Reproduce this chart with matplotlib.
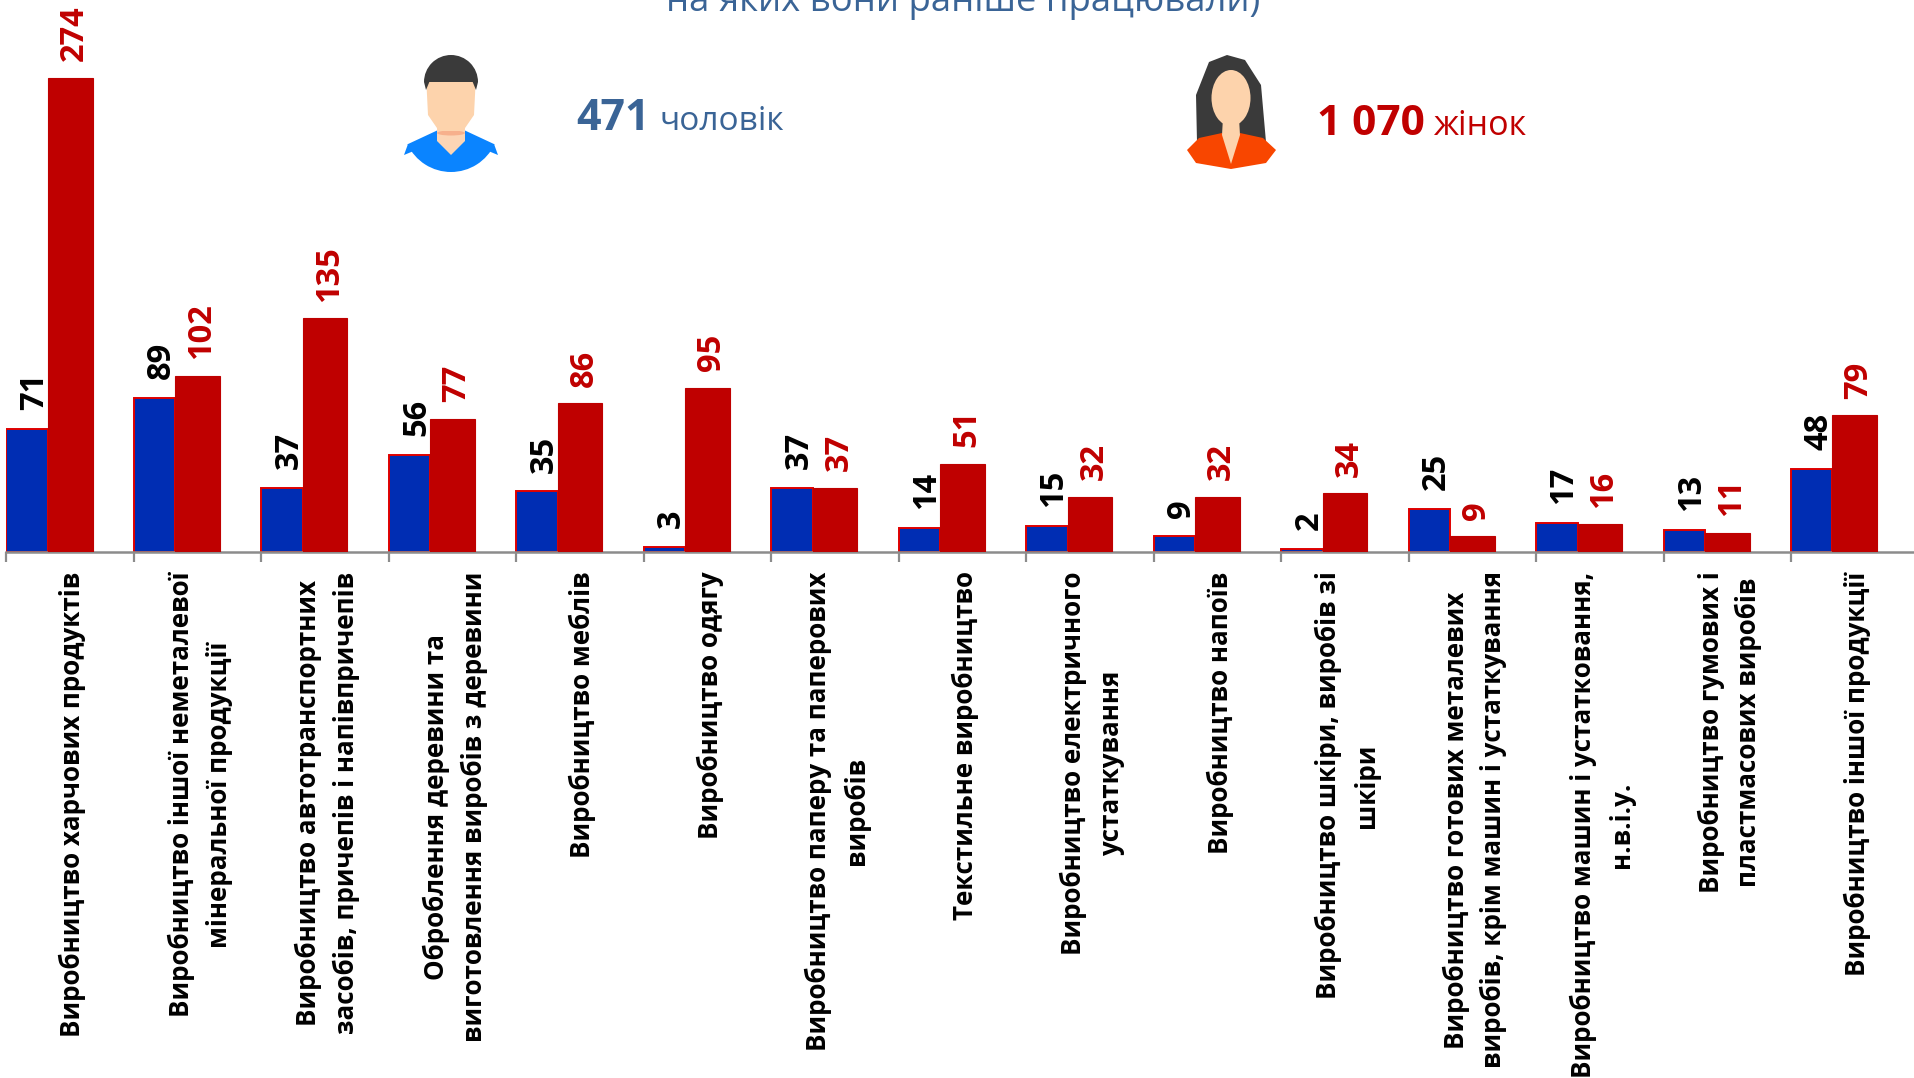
import matplotlib
matplotlib.use("Agg")
import matplotlib.pyplot as plt
from matplotlib.patches import Ellipse, Polygon, Wedge

plt.rcParams['font.family'] = ['Open Sans', 'Noto Sans', 'DejaVu Sans']

categories = [
    "Виробництво харчових продуктів",
    "Виробництво іншої неметалевої\nмінеральної продукції",
    "Виробництво автотранспортних\nзасобів, причепів і напівпричепів",
    "Оброблення деревини та\nвиготовлення виробів з деревини",
    "Виробництво меблів",
    "Виробництво одягу",
    "Виробництво паперу та паперових\nвиробів",
    "Текстильне виробництво",
    "Виробництво електричного\nустаткування",
    "Виробництво напоїв",
    "Виробництво шкіри, виробів зі\nшкіри",
    "Виробництво готових металевих\nвиробів, крім машин і устаткування",
    "Виробництво машин і устатковання,\nн.в.і.у.",
    "Виробництво гумових і\nпластмасових виробів",
    "Виробництво іншої продукції",
]
men = [71, 89, 37, 56, 35, 3, 37, 14, 15, 9, 2, 25, 17, 13, 48]
women = [274, 102, 135, 77, 86, 95, 37, 51, 32, 32, 34, 9, 16, 11, 79]
title_tail = "на яких вони раніше працювали)"
men_total, men_word = "471", "чоловік"
women_total, women_word = "1 070", "жінок"

BLUE, RED, EDGE = "#002db3", "#bf0000", "#e00000"
TITLE = "#3a6496"
W, H = 1915, 1078
fig = plt.figure(figsize=(W / 100, H / 100), dpi=100, facecolor="white")

base = 552
ax = fig.add_axes([6.5 / W, (H - base) / H, 1912 / W, base / H])
ax.set_xlim(0, 15)
ax.set_ylim(0, base / 1.73)
ax.patch.set_alpha(0)
xs = list(range(len(men)))
bw, rw = 0.325, 0.35
ax.bar(xs, men, width=bw, align="edge", color=BLUE, edgecolor=EDGE, linewidth=1.4, zorder=2)
ax.bar([x + bw for x in xs], women, width=rw, align="edge", color=RED, edgecolor=RED, linewidth=0.8, zorder=3)

for x, v in zip(xs, men):
    ax.annotate(str(v), (x + bw / 2, v), xytext=(5, 13.5), textcoords="offset points",
                rotation=90, ha="center", va="bottom", fontsize=23.5, fontweight="bold", color="black", zorder=4)
for x, v in zip(xs, women):
    ax.annotate(str(v), (x + bw + rw / 2, v), xytext=(3, 12), textcoords="offset points",
                rotation=90, ha="center", va="bottom", fontsize=23.5, fontweight="bold", color="#c00000", zorder=4)

for s in ("top", "left", "right"):
    ax.spines[s].set_visible(False)
ax.spines["bottom"].set_color("#8c8c8c")
ax.spines["bottom"].set_linewidth(1.8)
ax.yaxis.set_visible(False)
ax.set_xticks(range(16))
ax.set_xticklabels([])
ax.tick_params(axis="x", which="major", length=7.5, width=1.6, color="#8c8c8c")
ax.set_xticks([i + 0.52 for i in xs], minor=True)
ax.set_xticklabels(categories, minor=True, rotation=90, ha="center", va="top",
                   multialignment="center", fontsize=18.7, fontweight="bold", color="black",
                   linespacing=1.5)
ax.tick_params(axis="x", which="minor", length=0, pad=14)

# Overlay in pixel coordinates for icons and annotations
ov = fig.add_axes([0, 0, 1, 1])
ov.set_xlim(0, W)
ov.set_ylim(H, 0)
ov.axis("off")
ov.patch.set_alpha(0)

ov.text(963, 11, title_tail, ha="center", va="baseline", fontsize=26.3, color=TITLE)

ov.text(576, 130, men_total, ha="left", va="baseline", fontsize=31, fontweight="bold", color=TITLE)
ov.text(660, 130, men_word, ha="left", va="baseline", fontsize=24, color=TITLE)
ov.text(1317, 135, women_total, ha="left", va="baseline", fontsize=30.5, fontweight="bold", color="#c00000")
ov.text(1434, 135, women_word, ha="left", va="baseline", fontsize=24.5, color="#c00000")

SKIN, HAIR = "#fdd3ac", "#3a3a3a"
# man
cx = 451
ov.add_patch(Wedge((cx, 124), 48, 25, 155, fc="#0a84ff", ec="none"))
ov.add_patch(Polygon([(cx - 43, 144), (cx - 47, 155), (cx - 13, 141), (cx, 155), (cx + 13, 141), (cx + 47, 155), (cx + 43, 144)],
                     closed=True, fc="#0a84ff", ec="none"))
ov.add_patch(Polygon([(cx - 14, 122), (cx + 14, 122), (cx + 14, 141), (cx, 155), (cx - 14, 141)],
                     closed=True, fc="#fcd5b5", ec="none"))
ov.add_patch(Ellipse((cx, 133), 28, 5, fc="#f7b08c", ec="none"))
ov.add_patch(Polygon([(cx - 25, 75), (cx + 25, 75), (cx + 23, 115), (cx + 12, 131), (cx - 12, 131), (cx - 23, 115)],
                     closed=True, fc=SKIN, ec="none"))
ov.add_patch(Wedge((cx, 82), 27, 180, 360, fc=HAIR, ec="none"))
ov.add_patch(Polygon([(cx - 27, 82), (cx + 27, 82), (cx + 25, 90), (cx + 20, 78), (cx, 76), (cx - 20, 78), (cx - 25, 90)],
                     closed=True, fc=HAIR, ec="none"))
# woman
cx = 1231
ov.add_patch(Polygon([(cx - 34, 142), (cx - 35, 95), (cx - 22, 62), (cx - 4, 55), (cx + 14, 60), (cx + 30, 85), (cx + 35, 142)],
                     closed=True, fc=HAIR, ec="none"))
ov.add_patch(Polygon([(cx - 44, 150), (cx - 32, 138), (cx - 9, 133), (cx, 160), (cx + 9, 133), (cx + 32, 138), (cx + 45, 150),
                      (cx + 35, 163), (cx, 169), (cx - 35, 163)], closed=True, fc="#f84600", ec="none"))
ov.add_patch(Polygon([(cx - 8, 118), (cx + 8, 118), (cx + 9, 135), (cx, 164), (cx - 9, 135)], closed=True, fc=SKIN, ec="none"))
ov.add_patch(Ellipse((cx, 98), 39, 56, fc=SKIN, ec="none"))

fig.savefig("out.png", dpi=100, facecolor="white")
